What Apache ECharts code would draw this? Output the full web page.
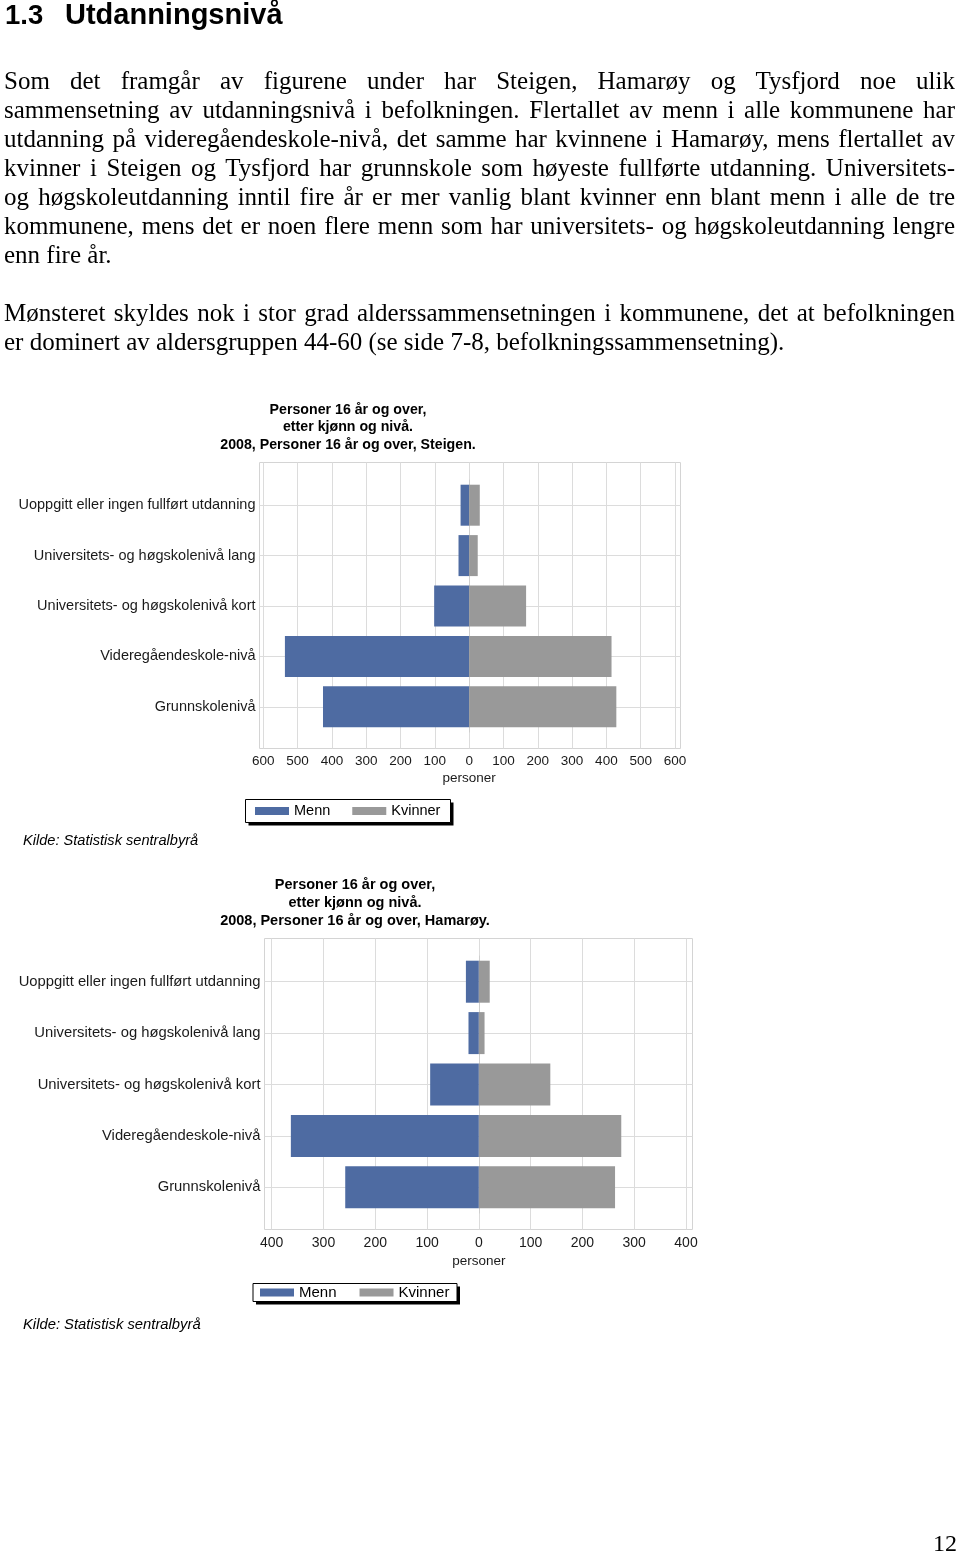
<!DOCTYPE html>
<html>
<head>
<meta charset="utf-8">
<script src="https://cdn.jsdelivr.net/npm/echarts@6/dist/echarts.min.js"></script>
<style>
  html, body { margin: 0; padding: 0; background: #fff; }
  body { width: 960px; height: 1553px; position: relative; overflow: hidden; }
  #chart { position: absolute; left: 0; top: 0; width: 960px; height: 1553px; z-index: 0; }
  .txt { position: absolute; z-index: 1; color: #000; }
  .h { font-family: "Liberation Sans", Arial, sans-serif; font-weight: bold; white-space: nowrap; }
  .body { left: 4px; width: 951px; font-family: "Liberation Serif", "Times New Roman", serif; font-size: 25px; }
  .ln { height: 29px; line-height: 29px; text-align: justify; text-align-last: justify; white-space: nowrap; }
  .ln.last { text-align-last: left; }
  .pg { font-family: "Liberation Serif", serif; font-size: 24px; left: 933px; top: 1529px; line-height: 29px; }
</style>
</head>
<body>
<div id="chart"></div>
<div class="txt h" style="left:5px; top:1px; font-size:27.5px; line-height:27.5px;">1.3</div>
<div class="txt h" style="left:65px; top:-0.5px; font-size:29px; line-height:29px;">Utdanningsnivå</div>
<div class="txt body" style="top:66px;">
  <div class="ln">Som det framgår av figurene under har Steigen, Hamarøy og Tysfjord noe ulik</div>
  <div class="ln">sammensetning av utdanningsnivå i befolkningen. Flertallet av menn i alle kommunene har</div>
  <div class="ln">utdanning på videregåendeskole-nivå, det samme har kvinnene i Hamarøy, mens flertallet av</div>
  <div class="ln">kvinner i Steigen og Tysfjord har grunnskole som høyeste fullførte utdanning. Universitets-</div>
  <div class="ln">og høgskoleutdanning inntil fire år er mer vanlig blant kvinner enn blant menn i alle de tre</div>
  <div class="ln">kommunene, mens det er noen flere menn som har universitets- og høgskoleutdanning lengre</div>
  <div class="ln last">enn fire år.</div>
</div>
<div class="txt body" style="top:298px;">
  <div class="ln">Mønsteret skyldes nok i stor grad alderssammensetningen i kommunene, det at befolkningen</div>
  <div class="ln last">er dominert av aldersgruppen 44-60 (se side 7-8, befolkningssammensetning).</div>
</div>
<div class="txt pg">12</div>
<script>
// ---- data ----
const categories = [
  'Uoppgitt eller ingen fullført utdanning',
  'Universitets- og høgskolenivå lang',
  'Universitets- og høgskolenivå kort',
  'Videregåendeskole-nivå',
  'Grunnskolenivå'
];
const steigenMenn    = [25, 31, 102, 537, 426];
const steigenKvinner = [31, 25, 166, 415, 429];
const hamaroyMenn    = [25, 20, 94, 363, 258];
const hamaroyKvinner = [21, 11, 138, 275, 263];
const steigenRange = [-600, 600];
const hamaroyRange = [-400, 400];
const tickStep = 100;
const seriesNames = ['Menn', 'Kvinner'];
const titleLines1 = ['Personer 16 år og over,', 'etter kjønn og nivå.', '2008, Personer 16 år og over, Steigen.'];
const titleLines2 = ['Personer 16 år og over,', 'etter kjønn og nivå.', '2008, Personer 16 år og over, Hamarøy.'];
const sourceText = 'Kilde: Statistisk sentralbyrå';
const axisName = 'personer';

// ---- style ----
const BLUE = '#4e6ba2';
const GRAY = '#999999';
const GRID = '#dcdcdc';
const FONT = '"Liberation Sans", Arial, sans-serif';

const grid = [], xAxis = [], yAxis = [], series = [], graphic = [], legend = [];

function addChart(c) {
  const gi = grid.length;
  grid.push({ left: c.tickL, top: c.frameT, width: c.tickR - c.tickL, height: c.frameB - c.frameT });
  xAxis.push({
    gridIndex: gi, type: 'value', min: c.range[0], max: c.range[1], interval: tickStep,
    axisLine: { show: false }, axisTick: { show: false },
    splitLine: { show: true, lineStyle: { color: GRID, width: 1 } },
    axisLabel: { formatter: v => String(Math.abs(v)), fontFamily: FONT, fontSize: c.tickFs, color: '#1a1a1a', margin: c.tickMargin },
    name: axisName, nameLocation: 'middle', nameGap: c.nameGap,
    nameTextStyle: { fontFamily: FONT, fontSize: c.nameFs, color: '#1a1a1a' }
  });
  yAxis.push({ gridIndex: gi, type: 'value', show: false, min: 0, max: 1 });
  const k = (c.tickR - c.tickL) / (c.range[1] - c.range[0]);
  const bmin = c.range[0] - (c.tickL - c.frameL) / k;
  const bmax = c.range[1] + (c.frameR - c.tickR) / k;
  grid.push({ left: c.frameL, top: c.bandT, width: c.frameR - c.frameL, height: c.bandB - c.bandT });
  xAxis.push({ gridIndex: gi + 1, type: 'value', min: bmin, max: bmax, show: false });
  yAxis.push({
    gridIndex: gi + 1, type: 'category', inverse: true, data: categories,
    axisLine: { show: true, lineStyle: { color: '#cfcfcf' } },
    axisTick: { show: true, length: 4, alignWithLabel: true, lineStyle: { color: '#cfcfcf' } },
    splitLine: { show: true, alignWithLabel: true, lineStyle: { color: GRID, width: 1 } },
    axisLabel: { fontFamily: FONT, fontSize: c.fs, color: '#1a1a1a', margin: c.labelMargin }
  });
  series.push({
    name: seriesNames[0], type: 'bar', xAxisIndex: gi + 1, yAxisIndex: gi + 1,
    data: c.menn.map(v => -v), barWidth: c.barW, barGap: '-100%',
    itemStyle: { color: BLUE }, silent: true
  });
  series.push({
    name: seriesNames[1], type: 'bar', xAxisIndex: gi + 1, yAxisIndex: gi + 1,
    data: c.kvinner, barWidth: c.barW, barGap: '-100%',
    itemStyle: { color: GRAY }, silent: true
  });
  graphic.push({ type: 'rect', z: -1, silent: true,
    shape: { x: c.frameL, y: c.frameT, width: c.frameR - c.frameL, height: c.frameB - c.frameT },
    style: { fill: 'none', stroke: '#d4d4d4', lineWidth: 1 } });
  c.titles.forEach((t, i) => graphic.push({ type: 'text', silent: true, x: c.titleX, y: c.titleY + i * c.titleLH,
    style: { text: t, textAlign: 'center', textVerticalAlign: 'middle', fill: '#000',
      font: 'bold ' + c.titleFs + 'px ' + FONT } }));
  const L = c.legBox;
  graphic.push({ type: 'rect', silent: true, z: 1, shape: { x: L[0] + 3, y: L[1] + 3, width: L[2], height: L[3] }, style: { fill: '#000' } });
  graphic.push({ type: 'rect', silent: true, z: 2, shape: { x: L[0], y: L[1], width: L[2], height: L[3] }, style: { fill: '#fff', stroke: '#000', lineWidth: 1 } });
  legend.push({
    data: seriesNames, left: c.legLeft, top: c.legTop, padding: 0, itemGap: c.legGap,
    itemWidth: 34, itemHeight: 8, icon: 'rect', z: 10, selectedMode: false,
    textStyle: { fontFamily: FONT, fontSize: c.legFs, color: '#000' }
  });
  graphic.push({ type: 'text', silent: true, x: 23, y: c.srcY,
    style: { text: sourceText, textVerticalAlign: 'middle', fill: '#000', font: 'italic ' + c.srcFs + 'px ' + FONT } });
}

addChart({
  range: steigenRange, menn: steigenMenn, kvinner: steigenKvinner, titles: titleLines1,
  tickL: 263.3, tickR: 675, frameL: 259.5, frameR: 680.5, frameT: 462.5, frameB: 748.5,
  bandT: 480, bandB: 732, barW: 41, fs: 14.5, tickFs: 13.5, nameFs: 13.5, titleFs: 14.2,
  legFs: 14.5, srcFs: 14.6, nameGap: 23, tickMargin: 6, labelMargin: 4,
  titleX: 348, titleY: 410, titleLH: 17.5,
  legBox: [245.5, 799.5, 205, 23], legLeft: 255, legTop: 803.5, legGap: 22, srcY: 841
});
addChart({
  range: hamaroyRange, menn: hamaroyMenn, kvinner: hamaroyKvinner, titles: titleLines2,
  tickL: 271.7, tickR: 686, frameL: 264.5, frameR: 692.5, frameT: 938.5, frameB: 1229.5,
  bandT: 956, bandB: 1213, barW: 42, fs: 14.8, tickFs: 14, nameFs: 13.5, titleFs: 14.5,
  legFs: 15, srcFs: 14.8, nameGap: 25, tickMargin: 7, labelMargin: 4,
  titleX: 355, titleY: 885, titleLH: 18,
  legBox: [253, 1283.5, 204, 18], legLeft: 260, legTop: 1285, legGap: 23, srcY: 1325
});

const chart = echarts.init(document.getElementById('chart'), null, { renderer: 'canvas' });
chart.setOption({
  animation: false,
  backgroundColor: 'transparent',
  grid, xAxis, yAxis, series, legend, graphic
});
</script>
</body>
</html>
